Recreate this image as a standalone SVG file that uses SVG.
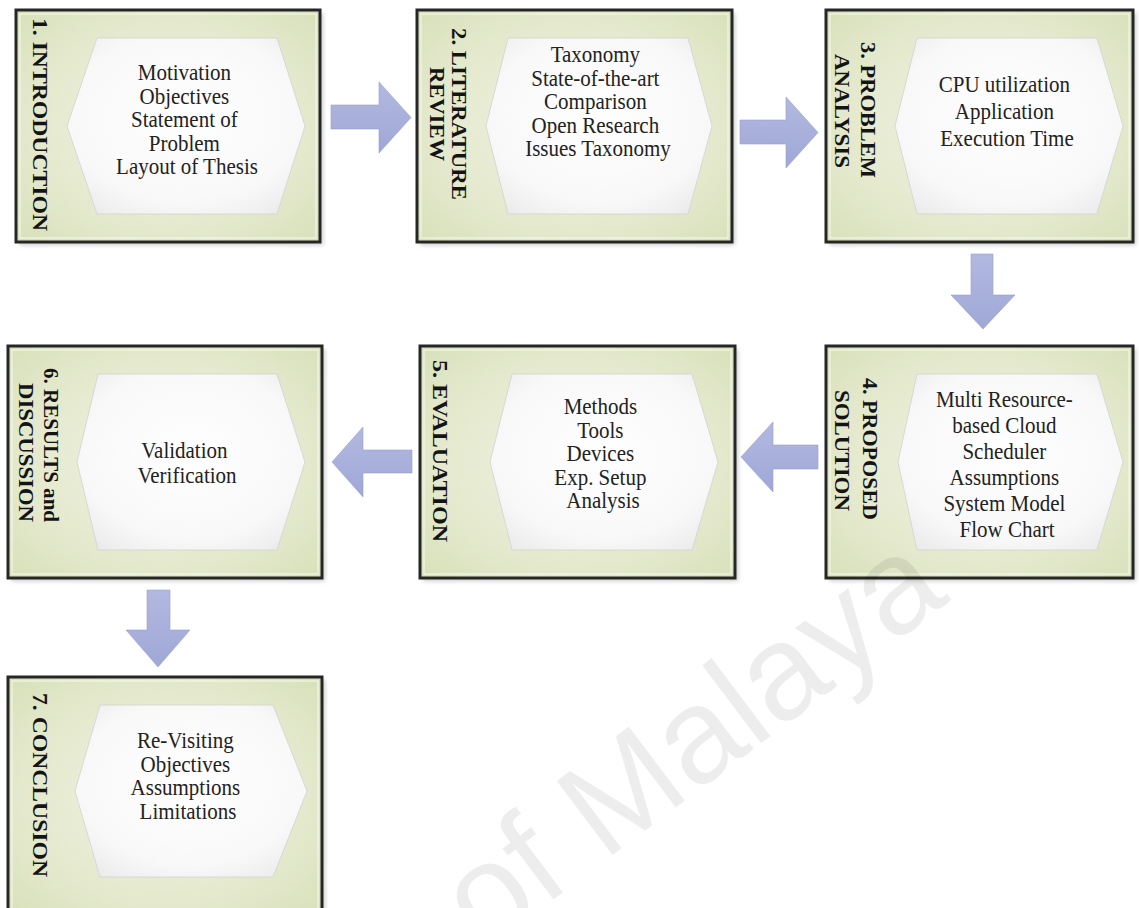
<svg xmlns="http://www.w3.org/2000/svg" width="1139" height="908" viewBox="0 0 1139 908">
  <defs>
    <radialGradient id="boxFill" cx="0.5" cy="0.5" r="0.75">
      <stop offset="0" stop-color="#f0f2e2"/>
      <stop offset="0.6" stop-color="#e4e9cd"/>
      <stop offset="1" stop-color="#d5deb6"/>
    </radialGradient>
    <radialGradient id="hexFill" cx="0.5" cy="0.45" r="0.7">
      <stop offset="0" stop-color="#ffffff"/>
      <stop offset="0.7" stop-color="#f8f8f8"/>
      <stop offset="1" stop-color="#e9e9e9"/>
    </radialGradient>
    <linearGradient id="arrowFill" x1="0" y1="0" x2="0" y2="1">
      <stop offset="0" stop-color="#b2b9e0"/>
      <stop offset="1" stop-color="#9fa7d6"/>
    </linearGradient>
    <filter id="soft" x="-10%" y="-10%" width="120%" height="120%">
      <feGaussianBlur stdDeviation="2"/>
    </filter>
    <style>
      .frame { fill: url(#boxFill); stroke: #262626; stroke-width: 3; }
      .inner { fill: none; stroke: #f6f8ec; stroke-width: 1.2; opacity: 0.9; }
      .shadow { fill: #8c8c8c; opacity: 0.45; filter: url(#soft); }
      .hex { fill: url(#hexFill); stroke: #d2d2d2; stroke-width: 0.8; }
      .lbl { font-family: "Liberation Serif", "Times New Roman", serif; font-weight: bold; font-size: 21px; fill: #141414; }
      .body { font-family: "Liberation Serif", "Times New Roman", serif; font-size: 21px; fill: #222222; text-anchor: middle; }
      .arrow { fill: url(#arrowFill); stroke: #98a0d0; stroke-width: 0.6; }
      .mark { font-family: "Liberation Sans", Arial, sans-serif; font-size: 135px; fill: #000000; fill-opacity: 0.07; }
    </style>
  </defs>

  <rect width="1139" height="908" fill="#ffffff"/>

  <!-- chapter 1 -->
  <g id="node-introduction">
    <rect class="shadow" x="19" y="13" width="304" height="232"/>
    <rect class="frame" x="16" y="10" width="304" height="232"/>
    <rect class="inner" x="20" y="14" width="296" height="224"/>
    <polygon class="hex" points="67,126 97,38 277,38 305,126 277,214 97,214"/>
    <text class="lbl" transform="translate(33 18) rotate(90)" textLength="213" lengthAdjust="spacingAndGlyphs">1. INTRODUCTION</text>
    <text class="body" transform="translate(187 80) scale(1 1.05)">
      <tspan x="0" y="0">Motivation</tspan>
      <tspan x="0" dy="22.4">Objectives</tspan>
      <tspan x="0" dy="22.4">Statement of</tspan>
      <tspan x="0" dy="22.4">Problem</tspan>
      <tspan x="0" dy="22.4">Layout of Thesis</tspan>
    </text>
  </g>

  <!-- chapter 2 -->
  <g id="node-literature-review">
    <rect class="shadow" x="420" y="13" width="315" height="232"/>
    <rect class="frame" x="417" y="10" width="315" height="232"/>
    <rect class="inner" x="421" y="14" width="307" height="224"/>
    <polygon class="hex" points="486,126 508,38 688,38 712,126 688,214 508,214"/>
    <text class="lbl" transform="translate(452 28) rotate(90)" textLength="172" lengthAdjust="spacingAndGlyphs">2. LITERATURE</text>
    <text class="lbl" transform="translate(430 67) rotate(90)" textLength="94" lengthAdjust="spacingAndGlyphs">REVIEW</text>
    <text class="body" transform="translate(598 62) scale(1 1.05)">
      <tspan x="0" y="0">Taxonomy</tspan>
      <tspan x="0" dy="22.4">State-of-the-art</tspan>
      <tspan x="0" dy="22.4">Comparison</tspan>
      <tspan x="0" dy="22.4">Open Research</tspan>
      <tspan x="0" dy="22.4">Issues Taxonomy</tspan>
    </text>
  </g>

  <!-- chapter 3 -->
  <g id="node-problem-analysis">
    <rect class="shadow" x="829" y="13" width="307" height="232"/>
    <rect class="frame" x="826" y="10" width="307" height="232"/>
    <rect class="inner" x="830" y="14" width="299" height="224"/>
    <polygon class="hex" points="895,126 917,38 1097,38 1123,126 1097,214 917,214"/>
    <text class="lbl" transform="translate(861 42) rotate(90)" textLength="136" lengthAdjust="spacingAndGlyphs">3. PROBLEM</text>
    <text class="lbl" transform="translate(835 54) rotate(90)" textLength="114" lengthAdjust="spacingAndGlyphs">ANALYSIS</text>
    <text class="body" transform="translate(1007 92) scale(1 1.05)">
      <tspan x="0" y="0">CPU utilization</tspan>
      <tspan x="0" dy="25.7">Application</tspan>
      <tspan x="0" dy="25.7">Execution Time</tspan>
    </text>
  </g>

  <!-- chapter 4 -->
  <g id="node-proposed-solution">
    <rect class="shadow" x="829" y="349" width="307" height="232"/>
    <rect class="frame" x="826" y="346" width="307" height="232"/>
    <rect class="inner" x="830" y="350" width="299" height="224"/>
    <polygon class="hex" points="898,462 917,374 1097,374 1123,462 1097,550 917,550"/>
    <text class="lbl" transform="translate(863 378) rotate(90)" textLength="142" lengthAdjust="spacingAndGlyphs">4. PROPOSED</text>
    <text class="lbl" transform="translate(835 390) rotate(90)" textLength="121" lengthAdjust="spacingAndGlyphs">SOLUTION</text>
    <text class="body" transform="translate(1007 407) scale(1 1.05)">
      <tspan x="0" y="0">Multi Resource-</tspan>
      <tspan x="0" dy="24.8">based Cloud</tspan>
      <tspan x="0" dy="24.8">Scheduler</tspan>
      <tspan x="0" dy="24.8">Assumptions</tspan>
      <tspan x="0" dy="24.8">System Model</tspan>
      <tspan x="0" dy="24.8">Flow Chart</tspan>
    </text>
  </g>

  <!-- chapter 5 -->
  <g id="node-evaluation">
    <rect class="shadow" x="423" y="349" width="315" height="232"/>
    <rect class="frame" x="420" y="346" width="315" height="232"/>
    <rect class="inner" x="424" y="350" width="307" height="224"/>
    <polygon class="hex" points="490,462 512,374 692,374 718,462 692,550 512,550"/>
    <text class="lbl" transform="translate(433 360) rotate(90)" textLength="182" lengthAdjust="spacingAndGlyphs">5. EVALUATION</text>
    <text class="body" transform="translate(603 414) scale(1 1.05)">
      <tspan x="0" y="0">Methods</tspan>
      <tspan x="0" dy="22.4">Tools</tspan>
      <tspan x="0" dy="22.4">Devices</tspan>
      <tspan x="0" dy="22.4">Exp. Setup</tspan>
      <tspan x="0" dy="22.4">Analysis</tspan>
    </text>
  </g>

  <!-- chapter 6 -->
  <g id="node-results-discussion">
    <rect class="shadow" x="11" y="349" width="314" height="232"/>
    <rect class="frame" x="8" y="346" width="314" height="232"/>
    <rect class="inner" x="12" y="350" width="306" height="224"/>
    <polygon class="hex" points="77,462 98,374 277,374 305,462 277,550 98,550"/>
    <text class="lbl" transform="translate(44 368) rotate(90)" textLength="154" lengthAdjust="spacingAndGlyphs">6. RESULTS and</text>
    <text class="lbl" transform="translate(19 383) rotate(90)" textLength="139" lengthAdjust="spacingAndGlyphs">DISCUSSION</text>
    <text class="body" transform="translate(187 458) scale(1 1.05)">
      <tspan x="0" y="0">Validation</tspan>
      <tspan x="0" dy="23.8">Verification</tspan>
    </text>
  </g>

  <!-- chapter 7 -->
  <g id="node-conclusion">
    <rect class="shadow" x="11" y="680" width="314" height="240"/>
    <rect class="frame" x="8" y="677" width="314" height="240"/>
    <rect class="inner" x="12" y="681" width="306" height="232"/>
    <polygon class="hex" points="75,791 100,705 273,705 307,791 273,877 100,877"/>
    <text class="lbl" transform="translate(33 693) rotate(90)" textLength="184" lengthAdjust="spacingAndGlyphs">7. CONCLUSION</text>
    <text class="body" transform="translate(188 748) scale(1 1.05)">
      <tspan x="0" y="0">Re-Visiting</tspan>
      <tspan x="0" dy="22.4">Objectives</tspan>
      <tspan x="0" dy="22.4">Assumptions</tspan>
      <tspan x="0" dy="22.4">Limitations</tspan>
    </text>
  </g>

  <!-- block arrows between chapters -->
  <g id="connectors">
    <polygon class="arrow" points="331,105 379,105 379,82 411,117.5 379,153 379,129 331,129"/>
    <polygon class="arrow" points="740,120 786,120 786,97 818,132.5 786,168 786,144 740,144"/>
    <polygon class="arrow" points="971,254 993,254 993,295 1015,295 983,329 951,295 971,295"/>
    <polygon class="arrow" points="741,457 773,422 773,445 818,445 818,469 773,469 773,492"/>
    <polygon class="arrow" points="332,462 363,427 363,450 412,450 412,473 363,473 363,497"/>
    <polygon class="arrow" points="147,590 170,590 170,630 190,630 158,667 126,630 147,630"/>
  </g>

  <!-- faint watermark -->
  <text class="mark" transform="translate(484 952) rotate(-37)">of Malaya</text>
</svg>
